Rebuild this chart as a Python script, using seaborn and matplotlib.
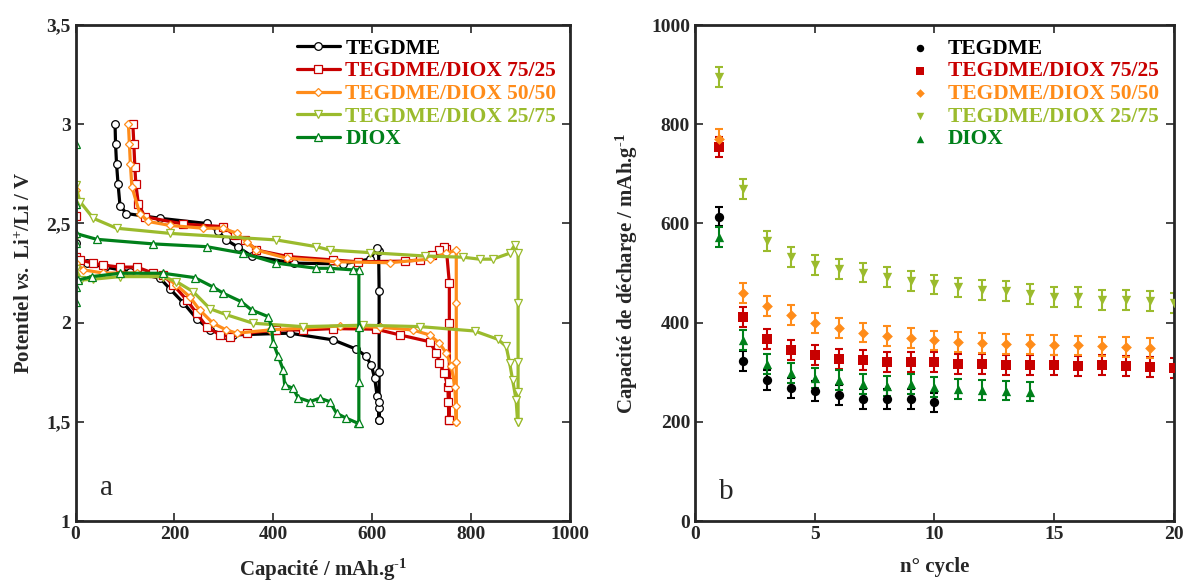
import numpy as np
import pandas as pd
import seaborn as sns
import matplotlib.pyplot as plt

# %%
# colours / labels
names = ["TEGDME", "TEGDME/DIOX 75/25", "TEGDME/DIOX 50/50", "TEGDME/DIOX 25/75", "DIOX"]
colors = ["#000000", "#c80000", "#ff8c1a", "#9bbb2d", "#00801a"]
markers_open = ["o", "s", "D", "v", "^"]
markers_full = ["o", "s", "D", "v", "^"]

# %%
# panel a : galvanostatic curves (capacity mAh/g, potential V), discharge then charge
cap_tegdme = [0, 0, 23, 60, 110, 171, 191, 218, 245, 272, 300, 319, 433, 521, 568, 587, 598, 605, 610, 613, 614,
              614, 614, 614, 614, 614, 613, 610, 595, 540, 441, 356, 329, 305, 288, 265, 171, 103, 90, 86, 83, 81, 80]
volt_tegdme = [2.40, 2.33, 2.30, 2.28, 2.257, 2.224, 2.17, 2.10, 2.02, 1.963, 1.94, 1.938, 1.947, 1.913, 1.866, 1.832, 1.787, 1.72, 1.63, 1.57, 1.51,
               1.51, 1.60, 1.75, 1.98, 2.16, 2.36, 2.375, 2.32, 2.296, 2.30, 2.336, 2.38, 2.417, 2.46, 2.50, 2.526, 2.55, 2.59, 2.70, 2.80, 2.90, 3.0]

cap_7525 = [0, 0, 9, 36, 56, 90, 124, 157, 177, 198, 225, 245, 265, 292, 312, 346, 406, 460, 521, 608, 656, 716, 730, 736, 746, 753, 754, 755,
            756, 756, 756, 756, 750, 746, 736, 720, 696, 666, 571, 521, 430, 366, 342, 322, 299, 218, 140, 127, 122, 120, 118, 116]
volt_7525 = [2.54, 2.33, 2.316, 2.30, 2.29, 2.28, 2.28, 2.25, 2.24, 2.19, 2.114, 2.047, 1.98, 1.938, 1.93, 1.947, 1.963, 1.963, 1.97, 1.967, 1.938, 1.904, 1.846, 1.795, 1.745, 1.677, 1.60, 1.51,
             1.51, 1.70, 2.00, 2.20, 2.37, 2.383, 2.366, 2.34, 2.316, 2.31, 2.307, 2.316, 2.333, 2.366, 2.417, 2.44, 2.484, 2.497, 2.534, 2.60, 2.70, 2.786, 2.90, 3.0]

cap_5050 = [0, 0, 16, 56, 124, 177, 204, 231, 251, 278, 305, 326, 393, 534, 615, 682, 716, 736, 750, 760, 767, 769, 770,
            770, 770, 770, 770, 750, 716, 635, 528, 427, 366, 346, 326, 299, 258, 191, 147, 130, 114, 111, 109, 107]
volt_5050 = [2.67, 2.30, 2.266, 2.25, 2.25, 2.24, 2.19, 2.13, 2.064, 1.997, 1.963, 1.947, 1.963, 1.983, 1.977, 1.963, 1.938, 1.896, 1.846, 1.78, 1.677, 1.58, 1.50,
             1.50, 1.80, 2.10, 2.366, 2.35, 2.32, 2.302, 2.307, 2.325, 2.366, 2.408, 2.45, 2.476, 2.476, 2.49, 2.51, 2.55, 2.685, 2.80, 2.90, 3.0]

cap_2575 = [0, 0, 12, 36, 90, 177, 204, 238, 272, 305, 359, 460, 581, 696, 807, 854, 871, 878, 884, 891, 894,
            895, 895, 895, 895, 895, 888, 878, 844, 817, 783, 706, 595, 514, 487, 406, 191, 83, 36, 9, 0]
volt_2575 = [2.43, 2.27, 2.215, 2.219, 2.232, 2.232, 2.207, 2.156, 2.07, 2.04, 1.997, 1.98, 1.987, 1.98, 1.958, 1.916, 1.88, 1.795, 1.71, 1.61, 1.50,
             1.50, 1.65, 1.80, 2.10, 2.35, 2.39, 2.35, 2.32, 2.32, 2.33, 2.336, 2.353, 2.366, 2.383, 2.417, 2.45, 2.476, 2.526, 2.61, 2.694]

cap_diox = [0, 0, 0, 6, 33, 90, 177, 241, 278, 299, 335, 356, 390, 396, 400, 410, 420, 423, 440, 450, 474, 494, 514, 528, 548, 571,
            573, 573, 573, 573, 561, 514, 487, 406, 339, 265, 157, 43, 0, 0, 0]
volt_diox = [2.40, 2.106, 2.18, 2.215, 2.232, 2.249, 2.249, 2.227, 2.18, 2.148, 2.106, 2.064, 2.03, 1.98, 1.896, 1.83, 1.762, 1.686, 1.669, 1.622, 1.602, 1.619, 1.602, 1.543, 1.518, 1.493,
             1.493, 1.70, 1.98, 2.266, 2.266, 2.274, 2.274, 2.30, 2.35, 2.383, 2.397, 2.42, 2.45, 2.60, 2.90]

curves = [(cap_tegdme, volt_tegdme), (cap_7525, volt_7525), (cap_5050, volt_5050),
          (cap_2575, volt_2575), (cap_diox, volt_diox)]

# %%
# panel b : discharge capacity vs cycle number
cyc_tegdme = [1, 2, 3, 4, 5, 6, 7, 8, 9, 10]
q_tegdme = [614, 322, 285, 268, 262, 254, 246, 246, 246, 239]
cyc_7525 = list(range(1, 21))
q_7525 = [755, 411, 367, 345, 334, 327, 324, 320, 320, 320, 316, 316, 314, 314, 314, 312, 314, 313, 310, 308]
cyc_5050 = list(range(1, 20))
q_5050 = [771, 460, 434, 415, 400, 389, 380, 373, 369, 364, 361, 359, 357, 356, 355, 354, 352, 351, 349]
cyc_2575 = list(range(1, 21))
q_2575 = [895, 670, 565, 533, 516, 509, 501, 492, 484, 477, 471, 465, 463, 458, 451, 451, 445, 446, 444, 440]
cyc_diox = list(range(1, 15))
q_diox = [573, 365, 317, 299, 288, 285, 276, 273, 276, 271, 266, 265, 263, 261]
q_err = 20

points = [(cyc_tegdme, q_tegdme), (cyc_7525, q_7525), (cyc_5050, q_5050),
          (cyc_2575, q_2575), (cyc_diox, q_diox)]

# %%
sns.set_style("ticks")
plt.rcParams["font.family"] = ["Liberation Serif", "DejaVu Serif"]
plt.rcParams["font.weight"] = "bold"
plt.rcParams["axes.labelweight"] = "bold"
plt.rcParams["mathtext.fontset"] = "custom"
plt.rcParams["mathtext.rm"] = "Liberation Serif:bold"
plt.rcParams["mathtext.it"] = "Liberation Serif:italic:bold"
plt.rcParams["mathtext.bf"] = "Liberation Serif:bold"

fig = plt.figure(figsize=(11.89, 5.85), dpi=100)
ax1 = fig.add_axes([0.0635, 0.1094, 0.4159, 0.8477])
ax2 = fig.add_axes([0.5845, 0.1094, 0.4029, 0.8477])

# %%
for (cap, volt), name, col, mk in zip(curves, names, colors, markers_open):
    sns.lineplot(x=cap, y=volt, sort=False, estimator=None, ax=ax1, color=col, lw=2.3,
                 marker=mk, markersize=5.5 if mk != "D" else 4, markerfacecolor="white",
                 markeredgecolor=col, markeredgewidth=0.9, label=name)

ax1.set_xlim(0, 1000)
ax1.set_ylim(1, 3.5)
ax1.set_xticks([0, 200, 400, 600, 800, 1000])
ax1.set_yticks([1, 1.5, 2, 2.5, 3, 3.5])
ax1.set_yticklabels(["1", "1,5", "2", "2,5", "3", "3,5"])
ax1.set_xlabel("Capacité / mAh.g$^{\\text{-1}}$", fontsize=15, labelpad=10)
ax1.set_ylabel("Potentiel $\\mathit{vs.}$ Li$^{+}$/Li / V", fontsize=15, labelpad=8)
ax1.text(50, 1.13, "a", fontsize=21, fontweight="normal")
leg1 = ax1.legend(loc="upper left", bbox_to_anchor=(0.43, 0.99), frameon=False, fontsize=15.5,
                  handlelength=2.0, handletextpad=0.25, labelspacing=0.12, borderaxespad=0)
for txt, col in zip(leg1.get_texts(), colors):
    txt.set_color(col)

# %%
for (cyc, q), name, col, mk in zip(points, names, colors, markers_full):
    ax2.errorbar(cyc, q, yerr=q_err, fmt="none", ecolor=col, elinewidth=1.5, capsize=3, capthick=1.5)
    sns.scatterplot(x=cyc, y=q, ax=ax2, color=col, marker=mk, s=45 if mk != "D" else 30,
                    edgecolor=col, linewidth=0, label=name, zorder=3)

ax2.set_xlim(0, 20)
ax2.set_ylim(0, 1000)
ax2.set_xticks([0, 5, 10, 15, 20])
ax2.set_yticks([0, 200, 400, 600, 800, 1000])
ax2.set_xlabel("n° cycle", fontsize=15, labelpad=10)
ax2.set_ylabel("Capacité de décharge / mAh.g$^{\\text{-1}}$", fontsize=15, labelpad=8)
ax2.text(1.0, 45, "b", fontsize=21, fontweight="normal")
leg2 = ax2.legend(loc="upper left", bbox_to_anchor=(0.425, 0.99), frameon=False, fontsize=15.5,
                  handlelength=1.2, handletextpad=0.7, labelspacing=0.12, borderaxespad=0, markerscale=0.8)
for txt, col in zip(leg2.get_texts(), colors):
    txt.set_color(col)

for ax in (ax1, ax2):
    ax.tick_params(direction="in", top=True, right=True, length=6, width=1.2, labelsize=14)
    for s in ax.spines.values():
        s.set_linewidth(2)
    for lab in ax.get_xticklabels() + ax.get_yticklabels():
        lab.set_fontweight("bold")

plt.savefig("out.png", dpi=100)
